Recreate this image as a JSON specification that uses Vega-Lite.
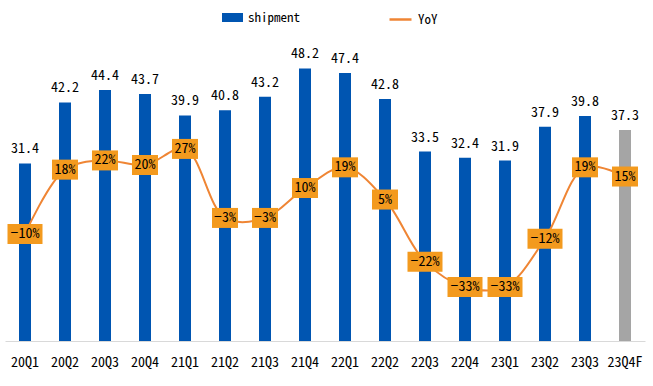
{
  "$schema": "https://vega.github.io/schema/vega-lite/v6.json",
  "width": 640,
  "height": 311,
  "autosize": {"type": "none"},
  "padding": {"left": 5, "top": 30, "right": 8, "bottom": 45},
  "background": "white",
  "config": {
    "view": {"stroke": null},
    "font": "Noto Sans Mono CJK SC, DejaVu Sans Mono",
    "text": {"font": "Noto Sans Mono CJK SC, DejaVu Sans Mono"}
  },
  "data": {
    "values": [
      {"q": "20Q1", "ship": 31.4, "yoy": -0.10},
      {"q": "20Q2", "ship": 42.2, "yoy": 0.18},
      {"q": "20Q3", "ship": 44.4, "yoy": 0.22},
      {"q": "20Q4", "ship": 43.7, "yoy": 0.20},
      {"q": "21Q1", "ship": 39.9, "yoy": 0.27},
      {"q": "21Q2", "ship": 40.8, "yoy": -0.03},
      {"q": "21Q3", "ship": 43.2, "yoy": -0.03},
      {"q": "21Q4", "ship": 48.2, "yoy": 0.10},
      {"q": "22Q1", "ship": 47.4, "yoy": 0.19},
      {"q": "22Q2", "ship": 42.8, "yoy": 0.05},
      {"q": "22Q3", "ship": 33.5, "yoy": -0.22},
      {"q": "22Q4", "ship": 32.4, "yoy": -0.33},
      {"q": "23Q1", "ship": 31.9, "yoy": -0.33},
      {"q": "23Q2", "ship": 37.9, "yoy": -0.12},
      {"q": "23Q3", "ship": 39.8, "yoy": 0.19},
      {"q": "23Q4F", "ship": 37.3, "yoy": 0.15}
    ]
  },
  "encoding": {
    "x": {
      "field": "q",
      "type": "ordinal",
      "sort": null,
      "scale": {"paddingInner": 0.7, "paddingOuter": 0.35},
      "axis": {
        "title": null,
        "labelAngle": 0,
        "ticks": false,
        "domainColor": "#d9d9d9",
        "domainWidth": 1,
        "labelPadding": 14,
        "labelFontSize": 14,
        "labelColor": "#000000",
        "labelFont": "Noto Sans Mono CJK SC, DejaVu Sans Mono"
      }
    }
  },
  "layer": [
    {
      "mark": {"type": "bar"},
      "encoding": {
        "y": {"field": "ship", "type": "quantitative", "scale": {"domain": [0, 55], "nice": false}, "axis": null},
        "color": {
          "condition": {"test": "datum.q === '23Q4F'", "value": "#A5A5A5"},
          "datum": "shipment",
          "type": "nominal",
          "scale": {"domain": ["shipment"], "range": ["#0055B1"]},
          "legend": {
            "title": null,
            "orient": "none",
            "legendX": 217,
            "legendY": -23,
            "symbolType": "M-1,-0.43H1V0.43H-1Z",
            "symbolSize": 441,
            "symbolStrokeWidth": 0,
            "labelFontSize": 13,
            "labelColor": "#000000",
            "labelOffset": 5,
            "labelFont": "Noto Sans Mono CJK SC, DejaVu Sans Mono"
          }
        }
      }
    },
    {
      "mark": {"type": "text", "baseline": "bottom", "dy": -7, "fontSize": 14, "color": "#000000"},
      "encoding": {
        "y": {"field": "ship", "type": "quantitative", "scale": {"domain": [0, 55], "nice": false}, "axis": null},
        "text": {"field": "ship", "type": "quantitative", "format": ".1f"}
      }
    },
    {
      "layer": [
        {
          "mark": {"type": "line", "interpolate": "catmull-rom", "strokeWidth": 2},
          "encoding": {
            "y": {"field": "yoy", "type": "quantitative", "scale": {"domain": [-0.565, 0.787], "nice": false, "zero": false}, "axis": null},
            "stroke": {
              "datum": "YoY",
              "type": "nominal",
              "scale": {"domain": ["YoY"], "range": ["#EF8534"]},
              "legend": {
                "title": null,
                "orient": "none",
                "legendX": 383,
                "legendY": -23,
                "symbolType": "stroke",
                "symbolSize": 484,
                "symbolStrokeWidth": 2.5,
                "labelFontSize": 13,
                "labelColor": "#000000",
                "labelOffset": 5,
                "labelFont": "Noto Sans Mono CJK SC, DejaVu Sans Mono"
              }
            }
          }
        },
        {
          "mark": {"type": "point", "filled": true, "size": 400, "opacity": 1, "color": "#F39A1E"},
          "encoding": {
            "y": {"field": "yoy", "type": "quantitative", "scale": {"domain": [-0.565, 0.787], "nice": false, "zero": false}, "axis": null},
            "shape": {
              "condition": {"test": "datum.yoy < -0.05", "value": "M-1.75,-1H1.75V1H-1.75Z"},
              "value": "M-1.3,-1H1.3V1H-1.3Z"
            }
          }
        },
        {
          "mark": {"type": "text", "baseline": "middle", "fontSize": 14, "color": "#000000"},
          "encoding": {
            "y": {"field": "yoy", "type": "quantitative", "scale": {"domain": [-0.565, 0.787], "nice": false, "zero": false}, "axis": null},
            "text": {"field": "yoy", "type": "quantitative", "format": ".0%"}
          }
        }
      ]
    }
  ],
  "resolve": {"scale": {"y": "independent"}}
}
